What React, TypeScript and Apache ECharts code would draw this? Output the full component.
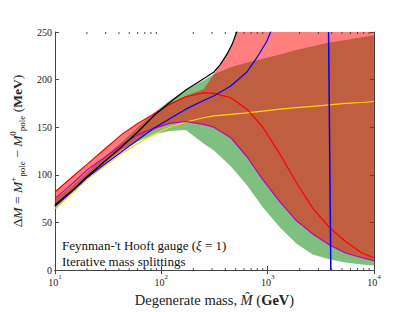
import React, { useEffect, useRef } from "react";
import * as echarts from "echarts";

// ---- data ----
const massGrid = [10, 15, 20, 30, 42, 60, 85, 120, 170, 250, 313, 450, 640, 900, 1300, 1860, 2650, 3800, 5400, 7700, 10000];
const redLine = [82, 99, 111, 128, 142, 154, 164, 174, 182, 186, 185.5, 181, 169, 150, 122, 92, 65, 45, 30, 18, 13];
const magentaLine = [75, 92, 105, 119, 131, 142, 149, 154, 156, 153, 150, 139, 119, 95, 72, 52, 38, 26.5, 18, 13, 10];
const yellowLine = [64.5, 82, 95, 110, 122, 133, 142.5, 150, 155.5, 160, 162, 163.5, 165, 167, 169, 170.5, 172, 173.5, 175, 176, 177];
const greenLower = [63, 82, 96, 113, 126, 135, 142.5, 146, 147, 133, 125.7, 109, 89, 66, 45, 28, 16.5, 11.4, 8, 6, 4.7];
const greenUpper = [74, 90, 103, 120, 134, 150, 165, 178, 189, 199, 206, 213, 218, 222, 226.5, 231, 235, 239, 241.6, 244.5, 246.6];
const redLower = [66, 84, 97, 113, 125, 138, 147, 154, 156, 153, 150, 139, 119, 95, 72, 52, 38, 26.5, 18, 13, 10];

const redUpperMass = [10, 15, 20, 30, 42, 60, 85, 120, 170, 250, 313, 360, 416, 463, 512, 10000];
const redUpperVals = [82, 99, 111, 128, 142, 154, 164, 175, 183, 190, 206, 216, 227, 237, 250, 250];

const blackMass = [10, 15, 20, 30, 42, 60, 85, 120, 170, 250, 313, 360, 416, 463, 512, 560];
const blackVals = [68.5, 85, 98, 115, 129, 145, 162, 176, 189, 201, 208, 216, 227, 237, 250, 268];

const blueMass = [10, 15, 20, 30, 42, 60, 85, 120, 170, 250, 313, 447, 638, 791, 980, 1067, 1300, 2000, 3000];
const blueVals = [67, 84, 97, 112, 124, 136.5, 149, 159, 169, 178, 183, 193, 208, 223, 240, 250, 290, 450, 900];
const bluePoleMass = [3741, 3927];
const bluePoleVals = [250, 0];

const yTicks = [0, 50, 100, 150, 200, 250];
const minorTickMasses = [20, 30, 40, 50, 60, 70, 80, 90, 200, 300, 400, 500, 600, 700, 800, 900, 2000, 3000, 4000, 5000, 6000, 7000, 8000, 9000];

const SERIF = "'Liberation Serif', 'DejaVu Serif', serif";
const INK = "#222";

const pairs = (xs: number[], ys: number[]) => xs.map((x, i) => [x, ys[i]]);

export default function App() {
  const ref = useRef<HTMLDivElement>(null);
  useEffect(() => {
    const chart = echarts.init(ref.current!, undefined, { renderer: "svg" });

    const band = (upper: number[][], lower: number[][], color: string, z: number) => ({
      type: "custom",
      clip: true,
      silent: true,
      z,
      data: [[10, 0]],
      renderItem: (params: any, api: any) => {
        if (params.dataIndex !== 0) return null;
        const pts = upper
          .map((p) => api.coord(p))
          .concat(lower.slice().reverse().map((p) => api.coord(p)));
        return { type: "polygon", shape: { points: pts }, style: { fill: color, stroke: "none" } };
      },
    });

    const line = (data: number[][], color: string, z: number, width = 1.2) => ({
      type: "line",
      data,
      showSymbol: false,
      clip: true,
      silent: true,
      z,
      lineStyle: { color, width },
    });

    const supRich = {
      b: { fontSize: 10, fontFamily: SERIF, color: INK, lineHeight: 14, verticalAlign: "bottom" },
      s: { fontSize: 7, fontFamily: SERIF, color: INK, lineHeight: 6, verticalAlign: "top" },
    };

    const option: any = {
      animation: false,
      grid: { left: 51, right: 41, top: 32, bottom: 32 },
      xAxis: [
        {
          type: "log",
          logBase: 10,
          min: 10,
          max: 10000,
          position: "bottom",
          splitLine: { show: false },
          axisLine: { show: true, lineStyle: { color: "#444", width: 1 } },
          axisTick: { show: true, inside: true, length: 4, lineStyle: { color: "#444" } },
          axisLabel: {
            margin: 3,
            formatter: (v: number) => `{b|10}{s|${Math.round(Math.log10(v))}}`,
            rich: supRich,
          },
          name: "Degenerate mass, {i|M̂} ({bb|GeV})",
          nameLocation: "middle",
          nameGap: 17,
          nameTextStyle: {
            fontSize: 14.5,
            fontFamily: SERIF,
            color: INK,
            rich: {
              i: { fontSize: 14.5, fontFamily: SERIF, fontStyle: "italic", color: INK },
              bb: { fontSize: 14.5, fontFamily: SERIF, fontWeight: "bold", color: INK },
            },
          },
        },
        {
          type: "log",
          logBase: 10,
          min: 10,
          max: 10000,
          position: "top",
          splitLine: { show: false },
          axisLine: { show: true, lineStyle: { color: "#444", width: 1 } },
          axisTick: { show: true, inside: true, length: 4, lineStyle: { color: "#444" } },
          axisLabel: { show: false },
        },
      ],
      yAxis: [
        {
          type: "value",
          min: 0,
          max: 250,
          interval: 50,
          position: "left",
          splitLine: { show: false },
          axisLine: { show: true, lineStyle: { color: "#444", width: 1 } },
          axisTick: { show: true, inside: true, length: 4, lineStyle: { color: "#444" } },
          axisLabel: {
            margin: 3,
            fontSize: 10,
            fontFamily: SERIF,
            color: INK,
            formatter: (v: number) => (yTicks.includes(v) ? String(v) : ""),
          },
          name: "Δ{i|M} = {i|M}{sup|+}{sub|pole} − {i|M}{sup|0}{sub|pole} ({bb|MeV})",
          nameLocation: "middle",
          nameRotate: 90,
          nameGap: 19,
          nameTextStyle: {
            fontSize: 13.5,
            fontFamily: SERIF,
            color: INK,
            lineHeight: 18,
            rich: {
              i: { fontSize: 13.5, fontFamily: SERIF, fontStyle: "italic", color: INK, lineHeight: 18 },
              bb: { fontSize: 13.5, fontFamily: SERIF, fontWeight: "bold", color: INK, lineHeight: 18 },
              sup: { fontSize: 9, fontFamily: SERIF, color: INK, lineHeight: 8, verticalAlign: "top" },
              sub: { fontSize: 9, fontFamily: SERIF, color: INK, lineHeight: 8, verticalAlign: "bottom" },
            },
          },
        },
        {
          type: "value",
          min: 0,
          max: 250,
          interval: 50,
          position: "right",
          splitLine: { show: false },
          axisLine: { show: true, lineStyle: { color: "#444", width: 1 } },
          axisTick: { show: true, inside: true, length: 4, lineStyle: { color: "#444" } },
          axisLabel: { show: false },
        },
      ],
      series: [
        band(pairs(massGrid, greenUpper), pairs(massGrid, greenLower), "rgba(0,128,0,0.5)", 1),
        band(pairs(redUpperMass, redUpperVals), pairs(massGrid, redLower), "rgba(255,0,0,0.5)", 2),
        line(pairs(massGrid, yellowLine), "#FFD700", 3),
        line(pairs(massGrid, magentaLine), "#BF00BF", 3),
        line(pairs(massGrid, redLine), "#FF0000", 4),
        line(pairs(blueMass, blueVals), "#0000FF", 5),
        line(pairs(bluePoleMass, bluePoleVals), "#0000FF", 5, 1.5),
        line(pairs(blackMass, blackVals), "#000000", 6),
        {
          type: "custom",
          silent: true,
          z: 10,
          data: [[10, 0]],
          renderItem: (params: any, api: any) => {
            if (params.dataIndex !== 0) return null;
            const children: any[] = [];
            minorTickMasses.forEach((m) => {
              const b = api.coord([m, 0]);
              const t = api.coord([m, 250]);
              children.push({ type: "line", shape: { x1: b[0], y1: b[1], x2: b[0], y2: b[1] - 2 }, style: { stroke: "#444", lineWidth: 1 } });
              children.push({ type: "line", shape: { x1: t[0], y1: t[1], x2: t[0], y2: t[1] + 2 }, style: { stroke: "#444", lineWidth: 1 } });
            });
            return { type: "group", children };
          },
        },
      ],
      graphic: [
        {
          type: "text",
          left: 62,
          top: 239,
          style: {
            text: "Feynman-'t Hooft gauge ({it|ξ} = 1)",
            font: `13px ${SERIF}`,
            fill: "#111",
            rich: { it: { fontStyle: "italic", fontSize: 13, fontFamily: SERIF, fill: "#111" } },
          },
        },
        {
          type: "text",
          left: 62,
          top: 255,
          style: { text: "Iterative mass splittings", font: `13px ${SERIF}`, fill: "#111" },
        },
      ],
    };

    chart.setOption(option);
    return () => chart.dispose();
  }, []);

  return (
    <div
      ref={ref}
      style={{ position: "absolute", left: 0, top: 0, width: 415, height: 312, background: "#fff" }}
    />
  );
}
